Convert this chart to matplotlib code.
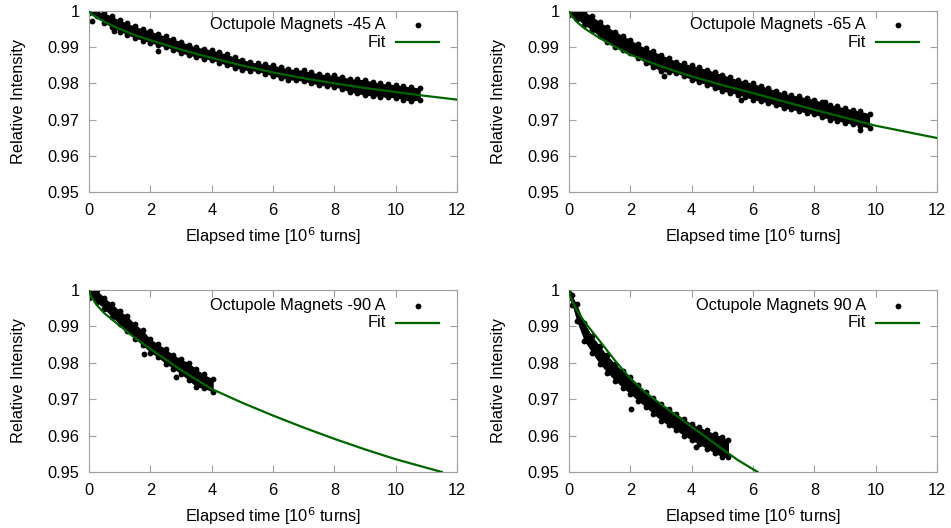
import matplotlib
matplotlib.use("Agg")
import numpy as np
import matplotlib.pyplot as plt

plt.rcParams['font.family'] = ['Liberation Sans', 'DejaVu Sans']
plt.rcParams['font.size'] = 11.8

FIT_COLOR = '#006400'
FRAME_COLOR = '#a0a0a0'

# ---------------- -45 A ----------------
t45 = [0, 0.25, 0.5, 0.75, 1.0, 1.25, 1.5, 1.75, 2.0, 2.25, 2.5, 2.75, 3.0, 3.25, 3.5, 3.75,
       4.0, 4.25, 4.5, 4.75, 5.0, 5.25, 5.5, 5.75, 6.0, 6.25, 6.5, 6.75, 7.0, 7.25, 7.5, 7.75,
       8.0, 8.25, 8.5, 8.75, 9.0, 9.25, 9.5, 9.75, 10.0, 10.25, 10.5, 10.8]
hi45 = [1.0000, 0.9998, 0.9994, 0.9985, 0.9974, 0.9966, 0.9957, 0.9950, 0.9945, 0.9936, 0.9930,
        0.9922, 0.9915, 0.9907, 0.9900, 0.9896, 0.9892, 0.9886, 0.9880, 0.9872, 0.9865, 0.9860,
        0.9855, 0.9853, 0.9850, 0.9845, 0.9840, 0.9838, 0.9836, 0.9830, 0.9827, 0.9823, 0.9822,
        0.9818, 0.9813, 0.9811, 0.9810, 0.9804, 0.9800, 0.9798, 0.9796, 0.9792, 0.9790, 0.9787]
lo45 = [0.9994, 0.9985, 0.9966, 0.9955, 0.9943, 0.9934, 0.9925, 0.9918, 0.9912, 0.9905, 0.9900,
        0.9892, 0.9883, 0.9878, 0.9872, 0.9868, 0.9864, 0.9857, 0.9850, 0.9843, 0.9837, 0.9835,
        0.9833, 0.9826, 0.9820, 0.9815, 0.9810, 0.9808, 0.9806, 0.9800, 0.9795, 0.9792, 0.9790,
        0.9784, 0.9776, 0.9772, 0.9767, 0.9765, 0.9763, 0.9761, 0.9760, 0.9755, 0.9750, 0.9755]
out_t45 = [0.1, 0.8, 2.25]
out_i45 = [0.9972, 0.9944, 0.9890]
fit_t45 = [0, 0.1, 0.25, 0.5, 1, 1.5, 2, 3, 4, 5, 6, 7, 8, 9, 10, 11, 12]
fit_i45 = [1.0, 0.9990, 0.9982, 0.9970, 0.9950, 0.9933, 0.9919, 0.9893, 0.9870, 0.9849,
           0.9830, 0.9814, 0.9800, 0.9787, 0.9776, 0.9765, 0.9755]

# ---------------- -65 A ----------------
t65 = [0, 0.25, 0.5, 0.75, 1.0, 1.25, 1.5, 1.75, 2.0, 2.25, 2.5, 2.75, 3.0, 3.25, 3.5, 3.75,
       4.0, 4.25, 4.5, 4.75, 5.0, 5.25, 5.5, 5.75, 6.0, 6.25, 6.5, 6.75, 7.0, 7.25, 7.5, 7.75,
       8.0, 8.25, 8.5, 8.75, 9.0, 9.25, 9.5, 9.8]
hi65 = [1.0000, 1.0000, 0.9998, 0.9985, 0.9970, 0.9956, 0.9943, 0.9932, 0.9920, 0.9908, 0.9897,
        0.9888, 0.9879, 0.9870, 0.9860, 0.9855, 0.9850, 0.9844, 0.9838, 0.9831, 0.9824, 0.9817,
        0.9810, 0.9805, 0.9800, 0.9793, 0.9787, 0.9780, 0.9773, 0.9768, 0.9764, 0.9760, 0.9755,
        0.9748, 0.9741, 0.9737, 0.9732, 0.9727, 0.9723, 0.9716]
lo65 = [0.9989, 0.9978, 0.9962, 0.9946, 0.9930, 0.9914, 0.9900, 0.9892, 0.9884, 0.9870, 0.9856,
        0.9845, 0.9833, 0.9830, 0.9828, 0.9819, 0.9810, 0.9803, 0.9796, 0.9787, 0.9778, 0.9774,
        0.9769, 0.9762, 0.9755, 0.9750, 0.9746, 0.9739, 0.9732, 0.9728, 0.9723, 0.9718, 0.9714,
        0.9707, 0.9700, 0.9696, 0.9691, 0.9687, 0.9682, 0.9677]
out_t65 = [3.1, 5.6, 8.36, 9.5]
out_i65 = [0.9820, 0.9755, 0.9748, 0.9672]
fit_t65 = [0, 0.1, 0.25, 0.5, 1, 1.5, 2, 3, 4, 5, 6, 7, 8, 9, 10, 11, 12]
fit_i65 = [1.0, 0.9985, 0.9970, 0.9952, 0.9925, 0.9901, 0.9879, 0.9847, 0.9819, 0.9795,
           0.9773, 0.9750, 0.9727, 0.9705, 0.9683, 0.9666, 0.9649]

# ---------------- -90 A ----------------
t90n = [0, 0.25, 0.5, 0.75, 1.0, 1.25, 1.5, 1.75, 2.0, 2.25, 2.5, 2.75, 3.0, 3.25, 3.5, 3.75, 4.05]
hi90n = [1.0000, 1.0000, 0.9979, 0.9962, 0.9943, 0.9928, 0.9906, 0.9890, 0.9865, 0.9852, 0.9838,
         0.9822, 0.9810, 0.9800, 0.9783, 0.9768, 0.9755]
lo90n = [0.9979, 0.9968, 0.9947, 0.9926, 0.9906, 0.9886, 0.9865, 0.9848, 0.9828, 0.9815, 0.9797,
         0.9784, 0.9769, 0.9752, 0.9733, 0.9730, 0.9719]
out_t90n = [1.8, 2.85]
out_i90n = [0.9824, 0.9762]
fit_t90n = [0, 0.05, 0.25, 0.5, 1, 1.5, 2, 3, 4, 5, 6, 7, 8, 9, 10, 11.5]
fit_i90n = [1.0, 0.9985, 0.9959, 0.9936, 0.9902, 0.9868, 0.9838, 0.9780, 0.9728, 0.9690,
            0.9655, 0.9622, 0.9591, 0.9562, 0.9535, 0.9500]

# ---------------- 90 A ----------------
t90 = [0, 0.1, 0.25, 0.5, 0.75, 1.0, 1.25, 1.5, 1.75, 2.0, 2.25, 2.5, 2.75, 3.0, 3.25, 3.5,
       3.75, 4.0, 4.25, 4.5, 4.75, 5.0, 5.2]
hi90 = [0.9993, 0.9985, 0.9961, 0.9910, 0.9874, 0.9847, 0.9820, 0.9797, 0.9778, 0.9760, 0.9740,
        0.9719, 0.9702, 0.9687, 0.9673, 0.9660, 0.9646, 0.9632, 0.9623, 0.9614, 0.9605, 0.9596,
        0.9588]
lo90 = [0.9979, 0.9960, 0.9915, 0.9860, 0.9828, 0.9797, 0.9773, 0.9751, 0.9732, 0.9714, 0.9696,
        0.9678, 0.9660, 0.9641, 0.9628, 0.9614, 0.9600, 0.9587, 0.9576, 0.9564, 0.9552, 0.9541,
        0.9540]
out_t90 = [2.03, 4.15]
out_i90 = [0.9673, 0.9568]
fit_t90 = [0, 0.05, 0.25, 0.5, 1, 1.5, 2, 2.5, 3, 3.5, 4, 4.5, 5, 5.5, 6.15]
fit_i90 = [1.0, 0.9980, 0.9945, 0.9913, 0.9860, 0.9806, 0.9757, 0.9718, 0.9686, 0.9655,
           0.9624, 0.9594, 0.9563, 0.9533, 0.9500]

panels = [
    ("Octupole Magnets -45 A", t45, hi45, lo45, out_t45, out_i45, fit_t45, fit_i45),
    ("Octupole Magnets -65 A", t65, hi65, lo65, out_t65, out_i65, fit_t65, fit_i65),
    ("Octupole Magnets -90 A", t90n, hi90n, lo90n, out_t90n, out_i90n, fit_t90n, fit_i90n),
    ("Octupole Magnets 90 A", t90, hi90, lo90, out_t90, out_i90, fit_t90, fit_i90),
]

fig = plt.figure(figsize=(9.51, 5.28), dpi=100)
rects = [
    [0.0936, 0.6364, 0.387, 0.343],
    [0.5983, 0.6364, 0.387, 0.343],
    [0.0936, 0.1061, 0.387, 0.3447],
    [0.5983, 0.1061, 0.387, 0.3447],
]
# legend row heights (axes fraction) for top and bottom rows of panels
key_rows = [(0.923, 0.827), (0.923, 0.827), (0.912, 0.821), (0.912, 0.821)]

for rect, rows, (label, t, hi, lo, ot, oi, ft, fi) in zip(rects, key_rows, panels):
    ax = fig.add_axes(rect)
    ax.fill_between(t, lo, hi, color='black', lw=0, zorder=2)
    ax.plot(t, hi, 'o', color='black', ms=4.2, mew=0, zorder=2)
    ax.plot(t, lo, 'o', color='black', ms=4.2, mew=0, zorder=2)
    ax.plot(ot, oi, 'o', color='black', ms=4.2, mew=0, zorder=2)
    ax.plot(ft, fi, color=FIT_COLOR, lw=1.6, zorder=3)

    ax.set_xlim(0, 12)
    ax.set_ylim(0.95, 1.0)
    ax.set_xticks([0, 2, 4, 6, 8, 10, 12])
    ax.set_yticks([0.95, 0.96, 0.97, 0.98, 0.99, 1.0])
    ax.set_yticklabels(['0.95', '0.96', '0.97', '0.98', '0.99', '1'])
    ax.tick_params(direction='in', length=5, width=0.8, color=FRAME_COLOR,
                   top=True, right=True)
    ax.tick_params(axis='x', pad=8)
    ax.tick_params(axis='y', pad=7)
    for s in ax.spines.values():
        s.set_color(FRAME_COLOR)
        s.set_linewidth(0.8)
    ax.set_xlabel("Elapsed time [10$^6$ turns]", labelpad=5)
    ax.set_ylabel("Relative Intensity", labelpad=15)

    # gnuplot-style key: text right-aligned, sample to the right
    tr = ax.transAxes
    ax.text(0.807, rows[0], label, ha='right', va='center', transform=tr)
    ax.text(0.807, rows[1], "Fit", ha='right', va='center', transform=tr)
    ax.plot([0.893], [rows[0]], 'o', color='black', ms=4.2, mew=0, transform=tr)
    ax.plot([0.834, 0.952], [rows[1], rows[1]], color=FIT_COLOR, lw=1.6, transform=tr)

fig.savefig("out.png", dpi=100)
